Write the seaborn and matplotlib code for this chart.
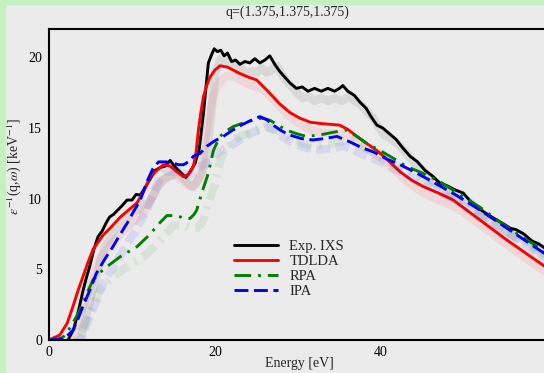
import matplotlib
matplotlib.use("Agg")
import matplotlib.pyplot as plt
import matplotlib.patheffects as pe
from matplotlib.patches import Rectangle
from matplotlib.ticker import MultipleLocator, FixedLocator
import seaborn as sns
import pandas as pd

# values
exp_E = [2.3, 3.0, 3.6, 4.1, 4.5, 4.9, 5.4, 5.9, 6.4, 6.9, 7.3, 7.8, 8.3, 8.8, 9.4, 10.0,
         10.5, 11.0, 11.6, 12.2, 12.8, 13.4, 14.0, 14.6, 15.1, 15.6, 16.1, 16.5, 17.0, 17.6,
         18.1, 18.6, 19.2, 19.6, 19.9, 20.3, 20.7, 21.1, 21.5, 22.0, 22.5, 23.0, 23.6, 24.2,
         24.8, 25.4, 26.0, 26.6, 27.2, 27.8, 28.4, 29.0, 29.8, 30.5, 31.2, 32.0, 32.8, 33.6,
         34.4, 35.0, 35.4, 36.0, 36.8, 37.5, 38.2, 38.8, 39.5, 40.2, 41.0, 41.8, 42.6, 43.5,
         44.4, 45.3, 46.2, 47.1, 48.0, 49.0, 49.9, 50.8, 51.8, 52.8, 53.9, 54.8, 55.6, 56.3,
         57.2, 58.2, 59.0, 60.0]
exp_v = [0.0, 0.8, 2.2, 3.5, 4.4, 5.2, 6.4, 7.3, 7.7, 8.3, 8.7, 8.9, 9.2, 9.5, 9.9, 9.9,
         10.3, 10.25, 10.8, 11.4, 12.0, 12.2, 12.3, 12.7, 12.3, 12.0, 11.7, 11.5, 11.9, 12.5,
         13.5, 16.0, 19.6, 20.2, 20.6, 20.4, 20.5, 20.1, 20.3, 19.7, 19.8, 19.5, 19.7, 19.6,
         19.9, 19.6, 19.8, 20.1, 19.5, 19.0, 18.6, 18.2, 17.8, 17.9, 17.6, 17.8, 17.6, 17.8,
         17.6, 17.8, 18.0, 17.6, 17.3, 16.8, 16.4, 15.8, 15.2, 15.0, 14.6, 14.2, 13.6, 13.0,
         12.6, 12.0, 11.6, 11.1, 10.9, 10.6, 10.4, 9.8, 9.3, 8.9, 8.5, 8.2, 7.9, 7.8,
         7.5, 7.0, 6.8, 6.4]

tdlda_E = [0, 1.3, 2.2, 2.9, 3.5, 4.1, 4.7, 5.3, 5.9, 6.5, 7.5, 8.6, 9.6, 10.6, 11.4, 12.2,
           13.0, 13.8, 14.6, 15.4, 16.2, 16.8, 17.4, 17.7, 18.0, 18.3, 18.6, 19.0, 19.4, 20.0,
           20.6, 21.5, 23.0, 24.0, 25.0, 26.2, 27.0, 27.8, 29.0, 30.2, 31.5, 33.0, 35.0, 36.0,
           37.1, 38.3, 39.5, 40.5, 42.3, 43.7, 45.1, 46.9, 48.7, 50.3, 51.9, 53.5, 55.1, 57.3, 60.0]
tdlda_v = [0, 0.35, 1.2, 2.4, 3.5, 4.5, 5.5, 6.4, 6.9, 7.4, 8.0, 8.7, 9.2, 9.7, 10.5, 11.55,
           12.0, 12.4, 12.3, 11.9, 11.55, 11.7, 12.3, 13.2, 14.85, 16.1, 17.2, 18.0, 18.6, 19.1,
           19.4, 19.3, 18.85, 18.6, 18.4, 17.7, 17.2, 16.7, 16.1, 15.7, 15.4, 15.3, 15.2, 14.9,
           14.4, 13.9, 13.4, 12.9, 11.9, 11.3, 10.85, 10.4, 9.9, 9.2, 8.5, 7.8, 7.1, 6.2, 5.1]

rpa_E = [0, 1.0, 1.7, 2.7, 3.7, 4.5, 5.3, 6.2, 7.0, 8.6, 10.6, 12.2, 13.2, 14.2, 15.4, 16.3,
         17.0, 17.5, 17.8, 18.1, 18.4, 18.8, 19.2, 19.8, 20.6, 21.4, 22.2, 23.4, 24.6, 25.6,
         26.6, 27.6, 28.6, 29.8, 31.0, 32.6, 34.3, 35.9, 37.1, 38.3, 39.9, 41.5, 43.0, 45.0,
         47.1, 49.5, 51.9, 54.7, 57.5, 60.0]
rpa_v = [0, 0.05, 0.2, 1.0, 2.1, 3.2, 4.25, 4.8, 5.2, 5.9, 6.6, 7.5, 8.2, 8.8, 8.8, 8.6,
         8.6, 8.9, 9.2, 9.8, 10.4, 11.1, 11.8, 13.4, 14.4, 14.8, 15.1, 15.35, 15.55, 15.7,
         15.55, 15.2, 14.85, 14.6, 14.4, 14.5, 14.7, 14.85, 14.4, 13.9, 13.4, 12.85, 12.3, 11.8,
         11.2, 10.3, 9.4, 8.2, 7.1, 6.2]

ipa_E = [0, 1.5, 2.2, 2.9, 3.5, 4.1, 4.9, 5.7, 6.7, 7.7, 8.5, 9.4, 10.2, 11.0, 11.8, 12.5,
         13.2, 14.1, 15.0, 15.6, 16.2, 16.8, 17.4, 18.2, 19.0, 20.0, 21.0, 22.0, 23.0, 24.2,
         25.4, 26.2, 27.0, 28.0, 29.0, 30.4, 31.8, 33.2, 34.7, 36.3, 37.7, 39.1, 40.7, 42.3,
         44.0, 45.9, 48.9, 51.9, 55.7, 60.0]
ipa_v = [0, 0.05, 0.3, 0.7, 1.5, 2.4, 3.5, 4.7, 5.7, 6.6, 7.4, 8.25, 9.1, 9.9, 11.2, 12.1,
         12.6, 12.6, 12.5, 12.4, 12.4, 12.6, 13.0, 13.2, 13.7, 14.1, 14.4, 14.8, 15.15, 15.5,
         15.8, 15.6, 15.2, 14.8, 14.5, 14.25, 14.15, 14.25, 14.4, 14.0, 13.6, 13.3, 12.8, 12.4,
         11.9, 11.3, 10.3, 9.2, 7.7, 6.0]

x_ticks = [0, 20, 40]

series = [
    ("Exp. IXS", exp_E, exp_v, "black", None),
    ("TDLDA", tdlda_E, tdlda_v, "#ff0000", None),
    ("RPA", rpa_E, rpa_v, "#008000", (12, 5, 2, 5)),
    ("IPA", ipa_E, ipa_v, "#0000ff", (10, 4)),
]

sns.set_style("white")
plt.rcParams['font.family'] = ['Liberation Serif', 'DejaVu Serif']
plt.rcParams['mathtext.fontset'] = 'stix'
plt.rcParams['lines.scale_dashes'] = False

bg = '#ebebeb'
fig = plt.figure(figsize=(5.44, 3.73), dpi=100, facecolor=bg)
ax = fig.add_axes([49 / 544, 33 / 373, 498 / 544, 311 / 373])
ax.set_facecolor(bg)

# green frame strips on the left and top
fig.patches.append(Rectangle((0, 0), 5 / 544, 1, transform=fig.transFigure,
                             color='#c4f0c4', zorder=0))
fig.patches.append(Rectangle((0, 1 - 4 / 373), 1, 4 / 373, transform=fig.transFigure,
                             color='#c4f0c4', zorder=0))

for name, E, v, col, dash in series:
    df = pd.DataFrame({'E': E, 'v': v})
    kw = {}
    if dash is not None:
        kw['dashes'] = dash
    sns.lineplot(data=df, x='E', y='v', ax=ax, color=col, lw=2.1, label=name,
                 estimator=None, sort=False,
                 path_effects=[pe.SimpleLineShadow(offset=(5, -7), shadow_color=col,
                                                   alpha=0.08, linewidth=6),
                               pe.Normal()], **kw)

ax.set_xlim(0, 60)
ax.set_ylim(0, 22)
ax.xaxis.set_major_locator(FixedLocator(x_ticks))
ax.xaxis.set_minor_locator(MultipleLocator(10))
ax.yaxis.set_major_locator(MultipleLocator(5))
ax.yaxis.set_minor_locator(MultipleLocator(2.5))
ax.tick_params(which='both', direction='in', width=1.5, labelsize=10, colors='black')
ax.tick_params(which='major', length=7)
ax.tick_params(which='minor', length=3.5)
ax.tick_params(axis='x', pad=4)
ax.tick_params(axis='y', pad=5)
for s in ax.spines.values():
    s.set_linewidth(1.5)
    s.set_color('black')

ax.set_xlabel('Energy [eV]', fontsize=10)
ax.xaxis.set_label_coords(0.502, -0.055)
ax.set_ylabel(r'$\varepsilon^{-1}$(q,$\omega$) [keV$^{-1}$]', fontsize=10)
ax.yaxis.set_label_coords(-0.052, 0.56)

fig.text(287 / 544, 1 - 12 / 373, 'q=(1.375,1.375,1.375)', ha='center', va='center',
         fontsize=10)

leg = ax.legend(loc='upper left', bbox_to_anchor=((234 - 49) / 498, (340 - 240) / 311),
                frameon=False, fontsize=10.5, handlelength=3.0, handletextpad=0.8,
                labelspacing=0.12, borderpad=0, borderaxespad=0)
for h in leg.get_lines():
    h.set_path_effects([])

fig.savefig('out.png', dpi=100, facecolor=bg)
